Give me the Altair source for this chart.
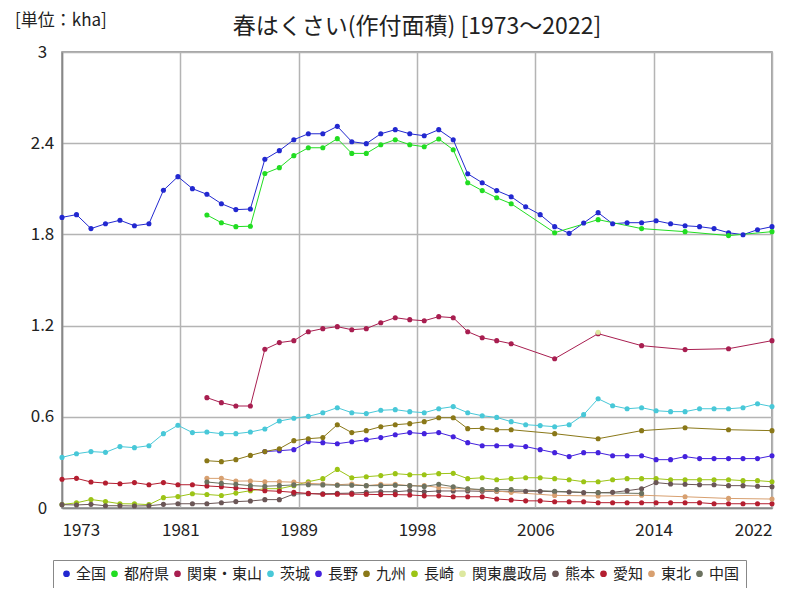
import altair as alt
import pandas as pd

FONT = "Noto Sans CJK JP"

title_text = "春はくさい(作付面積) [1973～2022]"
unit_label = "[単位：kha]"

series_names = ["全国", "都府県", "関東・東山", "茨城", "長野", "九州", "長崎",
                "関東農政局", "熊本", "愛知", "東北", "中国"]
series_colors = ["#2228d0", "#22dd22", "#a81e50", "#48c8d8", "#4422dd", "#8a7818",
                 "#9cc416", "#dde8a0", "#6a5656", "#b41e30", "#d8a070", "#6c7260"]

years_all = list(range(1973, 2023))
years_1983_sparse = list(range(1983, 2005)) + [2007, 2010, 2013, 2016, 2019, 2022]
years_1987 = list(range(1987, 2023))

zenkoku = [1.912, 1.930, 1.838, 1.870, 1.893, 1.857, 1.870, 2.090, 2.180, 2.101,
           2.064, 2.002, 1.963, 1.967, 2.294, 2.351, 2.423, 2.462, 2.462, 2.511,
           2.410, 2.397, 2.462, 2.489, 2.462, 2.449, 2.489, 2.423, 2.199, 2.140,
           2.088, 2.048, 1.982, 1.930, 1.851, 1.807, 1.875, 1.943, 1.870, 1.877,
           1.877, 1.890, 1.870, 1.857, 1.851, 1.838, 1.811, 1.798, 1.831, 1.851]

tofuken = [1.928, 1.877, 1.851, 1.854, 2.201, 2.239, 2.318, 2.370, 2.370, 2.430,
           2.333, 2.333, 2.390, 2.423, 2.390, 2.377, 2.428, 2.357, 2.140, 2.088,
           2.041, 2.002, 1.811, 1.897, 1.838, 1.818, 1.792, 1.818]

kanto_tosan = [0.726, 0.693, 0.671, 0.671, 1.044, 1.088, 1.101, 1.160, 1.180, 1.193,
               1.173, 1.180, 1.219, 1.252, 1.239, 1.232, 1.259, 1.252, 1.160, 1.120,
               1.101, 1.081, 0.982, 1.147, 1.068, 1.042, 1.048, 1.101]

ibaraki = [0.333, 0.357, 0.371, 0.366, 0.404, 0.397, 0.410, 0.489, 0.544, 0.496,
           0.500, 0.489, 0.489, 0.500, 0.520, 0.572, 0.590, 0.603, 0.627, 0.660,
           0.627, 0.621, 0.643, 0.647, 0.634, 0.627, 0.653, 0.667, 0.627, 0.607,
           0.596, 0.568, 0.548, 0.542, 0.535, 0.548, 0.614, 0.719, 0.673, 0.653,
           0.660, 0.640, 0.634, 0.634, 0.653, 0.653, 0.653, 0.660, 0.686, 0.667]

nagano = [0.371, 0.377, 0.384, 0.436, 0.430, 0.423, 0.436, 0.449, 0.463, 0.482,
          0.496, 0.489, 0.496, 0.469, 0.430, 0.410, 0.410, 0.410, 0.404, 0.384,
          0.364, 0.338, 0.364, 0.364, 0.344, 0.344, 0.344, 0.318, 0.318, 0.338,
          0.325, 0.325, 0.325, 0.325, 0.325, 0.344]

kyushu = [0.311, 0.305, 0.318, 0.346, 0.371, 0.390, 0.443, 0.456, 0.463, 0.548,
          0.496, 0.509, 0.535, 0.548, 0.555, 0.568, 0.594, 0.594, 0.522, 0.524,
          0.515, 0.515, 0.489, 0.456, 0.509, 0.528, 0.515, 0.509]

nagasaki = [0.023, 0.034, 0.056, 0.043, 0.028, 0.027, 0.022, 0.068, 0.075, 0.094,
            0.089, 0.082, 0.098, 0.114, 0.127, 0.127, 0.147, 0.173, 0.193, 0.254,
            0.199, 0.206, 0.213, 0.226, 0.219, 0.219, 0.226, 0.228, 0.193, 0.199,
            0.186, 0.193, 0.199, 0.199, 0.193, 0.186, 0.173, 0.173, 0.186, 0.193,
            0.193, 0.193, 0.186, 0.186, 0.186, 0.186, 0.186, 0.180, 0.180, 0.173]

kanto_noseikyoku_years = [2010]
kanto_noseikyoku = [1.156]

kumamoto = [0.022, 0.020, 0.024, 0.015, 0.015, 0.013, 0.015, 0.024, 0.028, 0.028,
            0.028, 0.035, 0.042, 0.046, 0.055, 0.055, 0.092, 0.094, 0.094, 0.096,
            0.098, 0.103, 0.107, 0.107, 0.114, 0.107, 0.112, 0.112, 0.112, 0.110,
            0.110, 0.110, 0.110, 0.110, 0.107, 0.105, 0.101, 0.101, 0.103, 0.114,
            0.127, 0.167, 0.158, 0.156, 0.153, 0.153, 0.147, 0.147, 0.143, 0.140]

aichi = [0.189, 0.195, 0.171, 0.164, 0.160, 0.167, 0.153, 0.167, 0.153, 0.153,
         0.145, 0.140, 0.132, 0.125, 0.114, 0.110, 0.103, 0.096, 0.090, 0.091,
         0.091, 0.090, 0.088, 0.088, 0.086, 0.080, 0.080, 0.074, 0.074, 0.074,
         0.059, 0.053, 0.047, 0.047, 0.041, 0.041, 0.041, 0.035, 0.035, 0.035,
         0.035, 0.035, 0.035, 0.035, 0.035, 0.028, 0.028, 0.028, 0.028, 0.028]

tohoku = [0.195, 0.195, 0.177, 0.178, 0.173, 0.173, 0.170, 0.162, 0.158, 0.153,
          0.158, 0.147, 0.156, 0.156, 0.147, 0.147, 0.135, 0.130, 0.125, 0.118,
          0.112, 0.103, 0.083, 0.079, 0.084, 0.074, 0.063, 0.059]

chugoku_years = list(range(1983, 2005)) + [2007, 2010, 2013]
chugoku = [0.171, 0.162, 0.156, 0.147, 0.143, 0.147, 0.152, 0.153, 0.152, 0.150,
           0.150, 0.147, 0.147, 0.150, 0.147, 0.142, 0.156, 0.140, 0.127, 0.121,
           0.121, 0.121, 0.110, 0.100, 0.096]

x_tick_values = [(1973 * 6 + k * 49) / 6 for k in range(7)]
y_tick_values = [0, 0.6, 1.2, 1.8, 2.4, 3]

series_data = [
    ("全国", years_all, zenkoku),
    ("都府県", years_1983_sparse, tofuken),
    ("関東・東山", years_1983_sparse, kanto_tosan),
    ("茨城", years_all, ibaraki),
    ("長野", years_1987, nagano),
    ("九州", years_1983_sparse, kyushu),
    ("長崎", years_all, nagasaki),
    ("関東農政局", kanto_noseikyoku_years, kanto_noseikyoku),
    ("熊本", years_all, kumamoto),
    ("愛知", years_all, aichi),
    ("東北", years_1983_sparse, tohoku),
    ("中国", chugoku_years, chugoku),
]

rows = []
for name, yrs, vals in series_data:
    for yr, v in zip(yrs, vals):
        rows.append({"series": name, "year": yr, "value": v})
df = pd.DataFrame(rows)

x_enc = alt.X("year:Q",
              scale=alt.Scale(domain=[1973, 2022], nice=False, zero=False),
              axis=alt.Axis(values=x_tick_values, title=None, grid=True,
                            labelExpr="format(round(datum.value), 'd')",
                            labelPadding=14, labelFontSize=17))
y_enc = alt.Y("value:Q",
              scale=alt.Scale(domain=[0, 3], nice=False, zero=True),
              axis=alt.Axis(values=y_tick_values, title=None, grid=True,
                            labelExpr="format(datum.value, '.1~f')",
                            labelAlign="center", labelBaseline="middle",
                            labelPadding=20, labelFontSize=17))

color_scale = alt.Scale(domain=series_names, range=series_colors)

base = alt.Chart(df)

lines = base.mark_line(strokeWidth=1).encode(
    x=x_enc, y=y_enc,
    color=alt.Color("series:N", scale=color_scale, legend=None),
)

points = base.mark_circle(size=26, opacity=1).encode(
    x=x_enc, y=y_enc,
    color=alt.Color("series:N", scale=color_scale,
                    sort=series_names,
                    legend=alt.Legend(orient="none", legendX=-9, legendY=508,
                                      direction="horizontal", columns=12,
                                      title=None, symbolType="circle",
                                      symbolSize=45, symbolStrokeWidth=0,
                                      labelFont=FONT, labelFontSize=15,
                                      labelColor="#222", labelOffset=2,
                                      columnPadding=0, padding=6,
                                      strokeColor="#888", fillColor="white")),
)

unit_text = alt.Chart(pd.DataFrame({"t": [unit_label]})).mark_text(
    align="left", baseline="middle", fontSize=17, font=FONT, color="#222"
).encode(text="t:N", x=alt.value(-47), y=alt.value(-31))

title_mark = alt.Chart(pd.DataFrame({"t": [title_text]})).mark_text(
    align="center", baseline="middle", fontSize=23, font=FONT, color="#222"
).encode(text="t:N", x=alt.value(355), y=alt.value(-25))

chart = alt.layer(lines, points, unit_text, title_mark).resolve_scale(
    color="independent"
).properties(
    width=710, height=456,
    autosize=alt.AutoSizeParams(type="none"),
    padding={"left": 54, "top": 44, "right": 10, "bottom": 80},
).configure_view(
    stroke="#888", strokeWidth=1.5
).configure_axis(
    gridColor="#b4b4b4", gridWidth=1.5, domainColor="#888", domainWidth=1.5,
    ticks=False, labelFont=FONT, labelColor="#222"
)

chart.save("out.html", embed_options={"renderer": "svg", "actions": False})
